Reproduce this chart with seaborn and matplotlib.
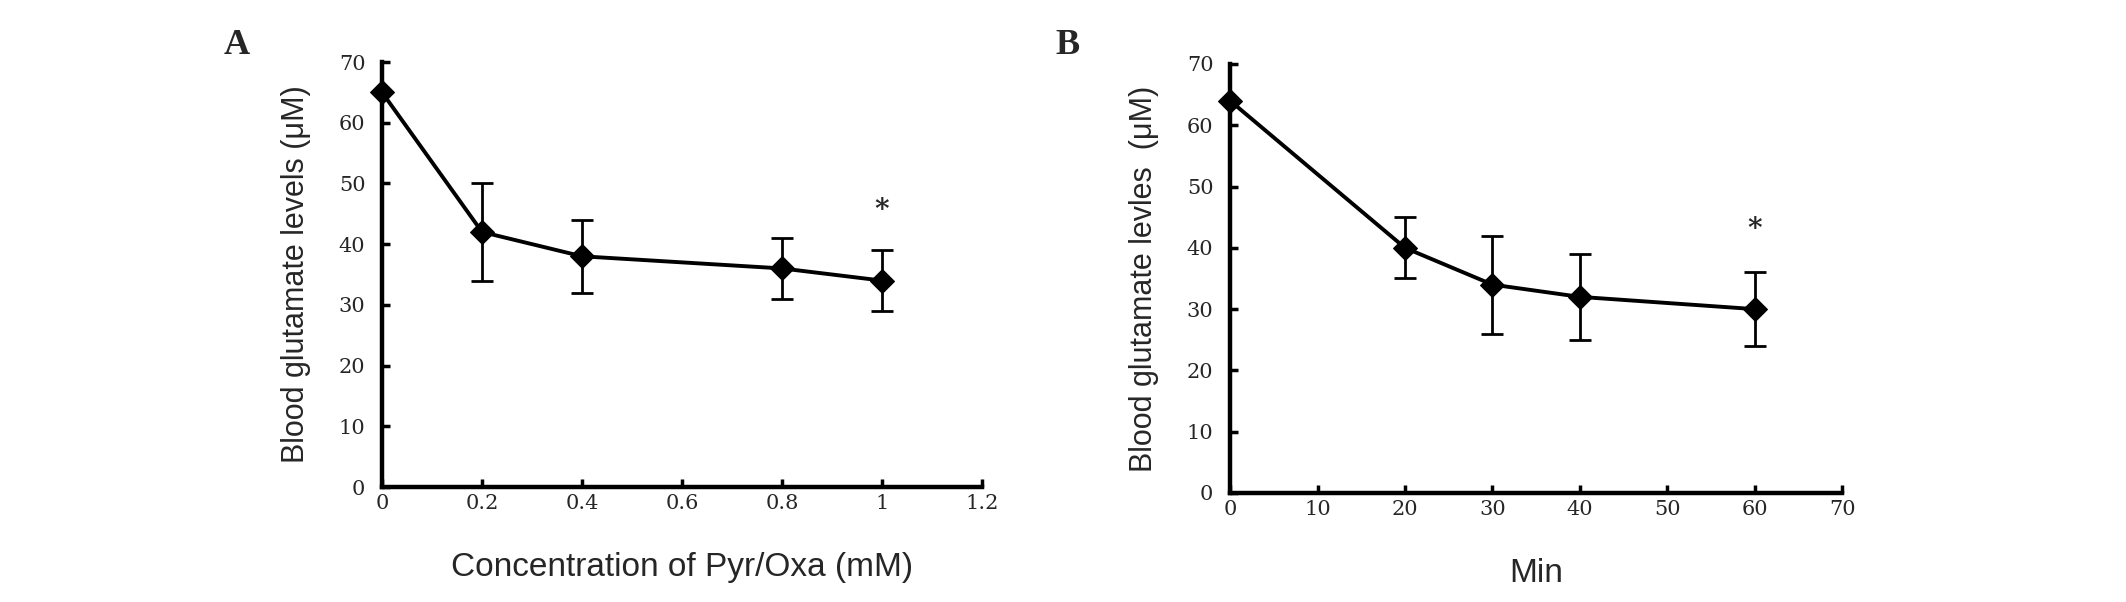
import matplotlib
matplotlib.use("Agg")
import matplotlib.pyplot as plt
import seaborn as sns
import pandas as pd

# panel A: concentration series
conc = [0, 0.2, 0.4, 0.8, 1.0]
conc_glu = [65, 42, 38, 36, 34]
conc_err = [0, 8, 6, 5, 5]
conc_ticks = [0, 0.2, 0.4, 0.6, 0.8, 1.0, 1.2]
conc_ticklabels = ['0', '0.2', '0.4', '0.6', '0.8', '1', '1.2']

# panel B: time series
minutes = [0, 20, 30, 40, 60]
time_glu = [64, 40, 34, 32, 30]
time_err = [0, 5, 8, 7, 6]
time_ticks = [0, 10, 20, 30, 40, 50, 60, 70]

y_ticks = [0, 10, 20, 30, 40, 50, 60, 70]

sns.set_theme(style="ticks")
plt.rcParams['font.family'] = ['Liberation Sans', 'DejaVu Sans']

fig = plt.figure(figsize=(21.26, 6.02), dpi=100)
ax_a = fig.add_axes([0.1797, 0.1910, 0.2822, 0.7060])
ax_b = fig.add_axes([0.5786, 0.1811, 0.2879, 0.7126])


def draw_panel(ax, x, y, err, xticks, xticklabels, xlabel, ylabel, star_x, star_y):
    df = pd.DataFrame({'x': x, 'y': y})
    ax.errorbar(x, y, yerr=err, fmt='none', ecolor='black', elinewidth=2,
                capsize=8, capthick=2, clip_on=False, zorder=2)
    sns.lineplot(data=df, x='x', y='y', ax=ax, color='black', linewidth=2.8,
                 marker='D', markersize=12, markeredgecolor='black',
                 markerfacecolor='black', clip_on=False, zorder=3)
    ax.text(star_x, star_y, '*', ha='center', va='center', fontsize=20,
            family='DejaVu Serif', fontweight='bold')
    ax.set_xlim(xticks[0], xticks[-1])
    ax.set_ylim(0, 70)
    ax.set_xticks(xticks)
    ax.set_xticklabels(xticklabels, family='DejaVu Serif', fontsize=15)
    ax.set_yticks(y_ticks)
    ax.set_yticklabels([str(t) for t in y_ticks], family='DejaVu Serif', fontsize=15)
    ax.tick_params(axis='both', direction='in', length=6, width=2.5, color='black')
    ax.tick_params(axis='x', pad=5)
    ax.tick_params(axis='y', pad=12)
    ax.set_xlabel(xlabel, fontsize=24, labelpad=28)
    ax.set_ylabel(ylabel, fontsize=22, labelpad=20)
    for side in ['top', 'right']:
        ax.spines[side].set_visible(False)
    for side in ['left', 'bottom']:
        ax.spines[side].set_linewidth(3.2)
        ax.spines[side].set_color('black')


draw_panel(ax_a, conc, conc_glu, conc_err, conc_ticks, conc_ticklabels,
           'Concentration of Pyr/Oxa (mM)', 'Blood glutamate levels (μM)', 1.0, 45.5)
draw_panel(ax_b, minutes, time_glu, time_err, time_ticks, [str(t) for t in time_ticks],
           'Min', 'Blood glutamate levles  (μM)', 60, 43)

fig.text(0.1115, 0.925, 'A', fontsize=26, fontweight='bold', family='Liberation Serif',
         ha='center', va='center')
fig.text(0.5020, 0.925, 'B', fontsize=26, fontweight='bold', family='Liberation Serif',
         ha='center', va='center')

plt.savefig('out.png', dpi=100)
